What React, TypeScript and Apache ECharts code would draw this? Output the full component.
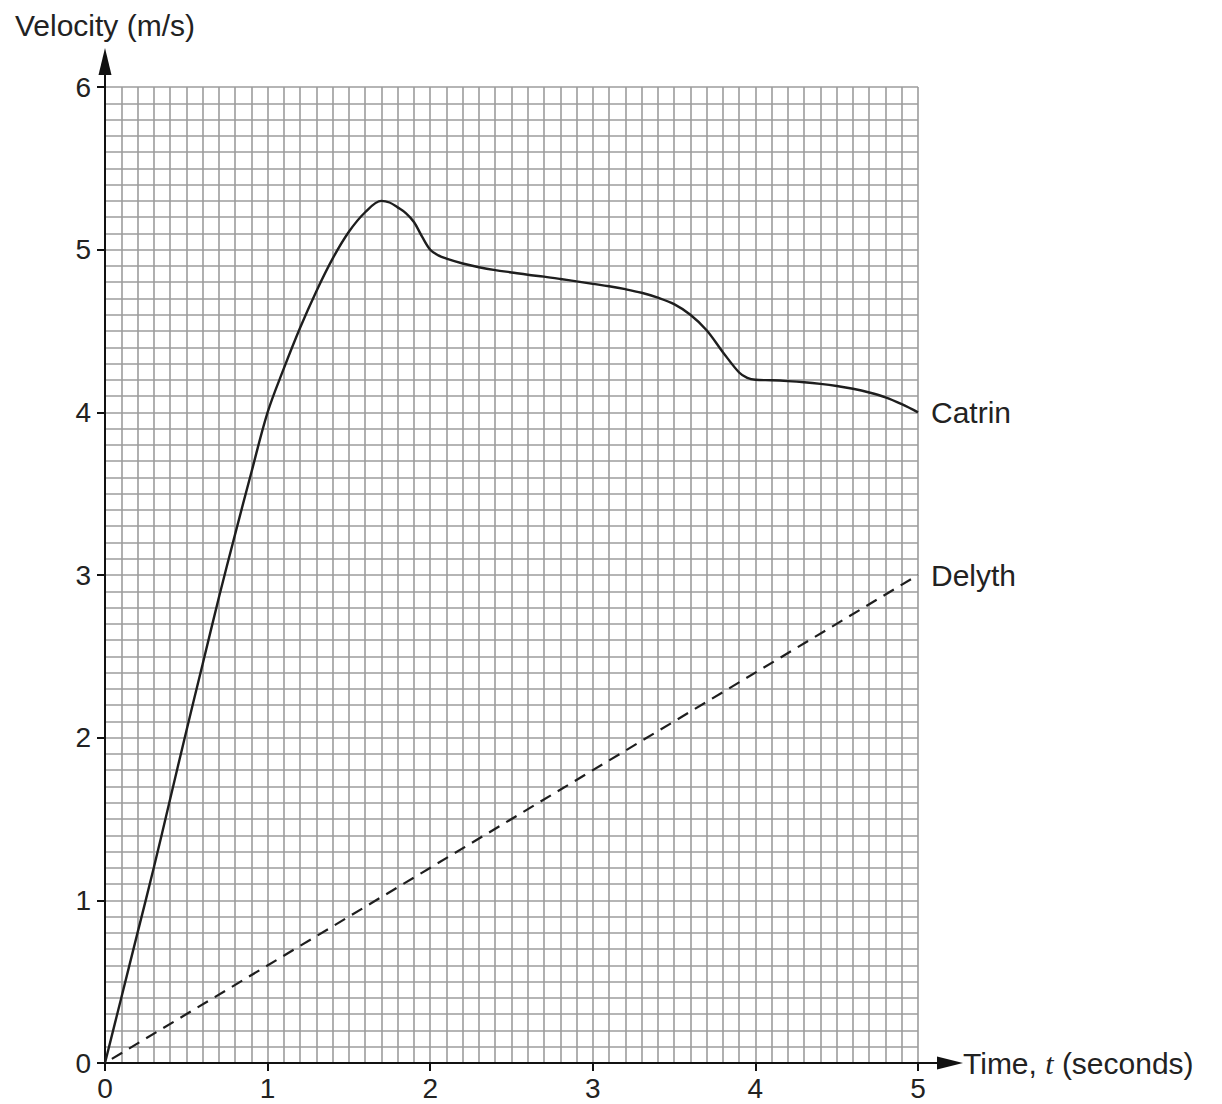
import React, { useEffect, useRef } from "react";
import * as echarts from "echarts";

const catrinTime = [0, 0.1, 0.2, 0.3, 0.4, 0.5, 0.6, 0.7, 0.8, 0.9, 1.0, 1.1, 1.2, 1.3, 1.4, 1.5, 1.6, 1.7, 1.75, 1.8, 1.85, 1.9, 1.95, 2.0, 2.05, 2.1, 2.2, 2.3, 2.4, 2.5, 2.6, 2.7, 2.8, 2.9, 3.0, 3.1, 3.2, 3.3, 3.4, 3.5, 3.6, 3.7, 3.8, 3.9, 3.95, 4.0, 4.1, 4.2, 4.3, 4.4, 4.5, 4.6, 4.7, 4.8, 4.9, 5.0];
const catrinVelocity = [0, 0.4, 0.8, 1.2, 1.62, 2.04, 2.45, 2.86, 3.25, 3.63, 4.0, 4.27, 4.52, 4.745, 4.945, 5.11, 5.23, 5.3, 5.29, 5.26, 5.225, 5.17, 5.08, 5.0, 4.965, 4.945, 4.915, 4.892, 4.874, 4.86, 4.846, 4.834, 4.82, 4.805, 4.79, 4.775, 4.757, 4.735, 4.705, 4.665, 4.6, 4.505, 4.37, 4.245, 4.212, 4.2, 4.197, 4.192, 4.185, 4.175, 4.162, 4.145, 4.122, 4.092, 4.05, 4.0];
const delythTime = [0, 5];
const delythVelocity = [0, 3];
const xTicks = [0, 1, 2, 3, 4, 5];
const yTicks = [0, 1, 2, 3, 4, 5, 6];
const seriesNames = ["Catrin", "Delyth"];

const FONT = "'Liberation Sans', Arial, sans-serif";
const TEXT = "#222";
const GRIDC = "#9c9c9c";

export default function App() {
  const ref = useRef<HTMLDivElement>(null);
  useEffect(() => {
    if (!ref.current) return;
    const chart = echarts.init(ref.current, null, { renderer: "svg" });
    const axisCommon = {
      type: "value",
      interval: 1,
      axisLine: { show: true, onZero: false, lineStyle: { color: "#111", width: 2 } },
      axisTick: { show: true, length: 8, lineStyle: { color: "#111", width: 2 } },
      minorTick: { show: false, splitNumber: 10 },
      splitLine: { show: true, lineStyle: { color: GRIDC, width: 1.6 } },
      minorSplitLine: { show: true, lineStyle: { color: GRIDC, width: 1.6 } },
    };
    chart.setOption({
      animation: false,
      backgroundColor: "#fff",
      grid: { left: 105, right: 304, top: 87, bottom: 41, containLabel: false },
      xAxis: {
        ...axisCommon,
        min: xTicks[0],
        max: xTicks[xTicks.length - 1],
        name: "Time, {t|t} (seconds)",
        nameLocation: "end",
        nameGap: 45,
        nameTextStyle: {
          fontSize: 30,
          fontFamily: FONT,
          color: TEXT,
          rich: { t: { fontSize: 30, fontStyle: "italic", fontFamily: "'Liberation Serif', 'Times New Roman', serif", color: TEXT } },
        },
        axisLabel: { fontSize: 28, fontFamily: FONT, color: TEXT, margin: 11 },
      },
      yAxis: {
        ...axisCommon,
        min: yTicks[0],
        max: yTicks[yTicks.length - 1],
        name: "Velocity (m/s)",
        nameLocation: "end",
        nameGap: 47,
        nameTextStyle: { fontSize: 30, fontFamily: FONT, color: TEXT },
        axisLabel: { fontSize: 28, fontFamily: FONT, color: TEXT, margin: 14 },
      },
      series: [
        {
          name: seriesNames[0],
          type: "line",
          data: catrinTime.map((t, i) => [t, catrinVelocity[i]]),
          smooth: 0.35,
          showSymbol: false,
          symbol: "none",
          lineStyle: { color: "#1e1e1e", width: 2.4 },
          endLabel: { show: true, formatter: seriesNames[0], fontSize: 30, fontFamily: FONT, color: TEXT, distance: 13 },
          z: 5,
        },
        {
          name: seriesNames[1],
          type: "line",
          data: delythTime.map((t, i) => [t, delythVelocity[i]]),
          showSymbol: false,
          symbol: "none",
          lineStyle: { color: "#1e1e1e", width: 2.2, type: [12, 8], dashOffset: -8 },
          endLabel: { show: true, formatter: seriesNames[1], fontSize: 30, fontFamily: FONT, color: TEXT, distance: 13 },
          z: 5,
        },
      ],
    });
    const xe = chart.convertToPixel({ gridIndex: 0 }, [xTicks[xTicks.length - 1], yTicks[0]]) as number[];
    const ye = chart.convertToPixel({ gridIndex: 0 }, [xTicks[0], yTicks[yTicks.length - 1]]) as number[];
    chart.setOption({
      graphic: [
        { type: "line", shape: { x1: xe[0], y1: xe[1], x2: xe[0] + 24, y2: xe[1] }, style: { stroke: "#111", lineWidth: 2 }, z: 10 },
        { type: "polygon", shape: { points: [[xe[0] + 19, xe[1] - 6.5], [xe[0] + 45, xe[1]], [xe[0] + 19, xe[1] + 6.5]] }, style: { fill: "#111" }, z: 10 },
        { type: "line", shape: { x1: ye[0], y1: ye[1], x2: ye[0], y2: ye[1] - 16 }, style: { stroke: "#111", lineWidth: 2 }, z: 10 },
        { type: "polygon", shape: { points: [[ye[0] - 6.5, ye[1] - 12], [ye[0], ye[1] - 39], [ye[0] + 6.5, ye[1] - 12]] }, style: { fill: "#111" }, z: 10 },
      ],
    });
    return () => chart.dispose();
  }, []);
  return <div ref={ref} style={{ position: "absolute", left: 0, top: 0, width: 1222, height: 1104 }} />;
}
